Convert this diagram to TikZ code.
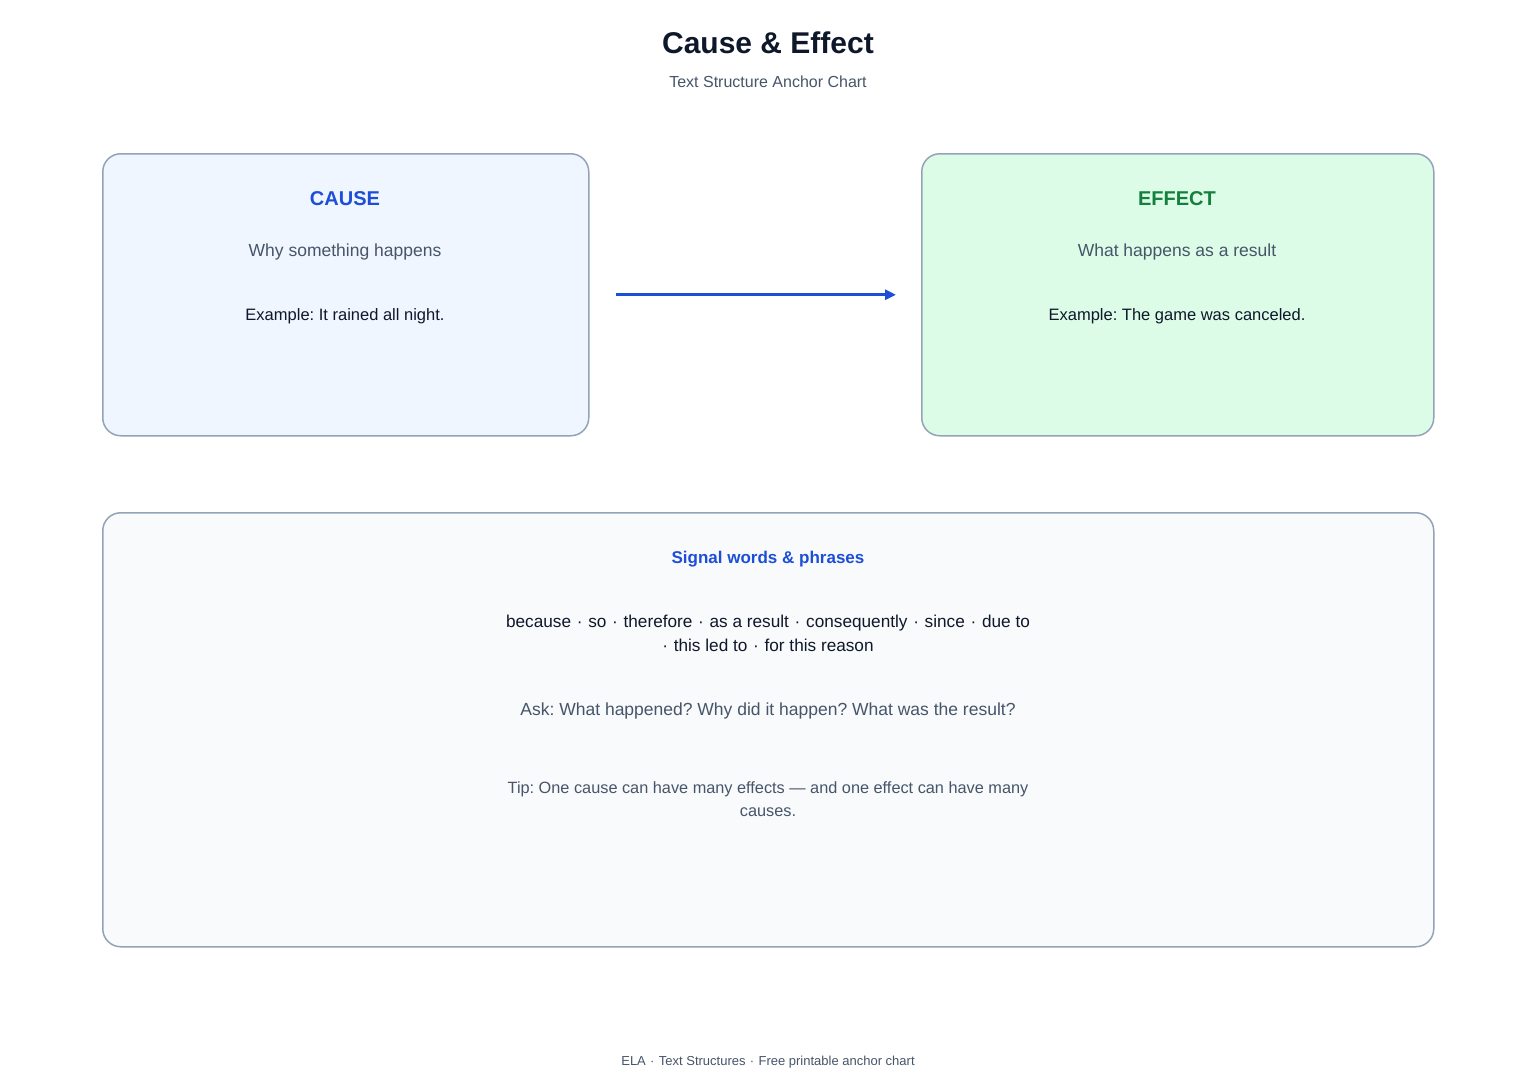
\documentclass[tikz,border=0pt]{standalone}
\usepackage{fontspec}
\setmainfont{Liberation Sans}
\usetikzlibrary{arrows.meta}
\definecolor{ink}{HTML}{0F172A}
\definecolor{slate}{HTML}{475569}
\definecolor{rim}{HTML}{94A3B8}
\definecolor{causeblue}{HTML}{1D4ED8}
\definecolor{causefill}{HTML}{EFF6FF}
\definecolor{effectgreen}{HTML}{15803D}
\definecolor{effectfill}{HTML}{DCFCE7}
\definecolor{signalfill}{HTML}{F8FAFC}
\frenchspacing
\newcommand{\sep}{\,\,·\,\,}
\begin{document}
\begin{tikzpicture}[x=1pt,y=-1pt,
  card/.style={draw=rim,line width=1.5pt,rounded corners=18pt,anchor=north west,inner sep=0pt},
  head/.style={anchor=base,font=\fontsize{20}{24}\selectfont\bfseries},
  sub/.style={anchor=base,text=slate,font=\fontsize{17.5}{23}\selectfont},
  body/.style={anchor=base,text=ink,font=\fontsize{16.5}{23}\selectfont},
  link/.style={draw=causeblue,line width=3pt,-{Triangle[length=11pt,width=10pt]},shorten <=26pt,shorten >=25pt}]
\useasboundingbox[fill=white] (0,0) rectangle (1536,1088);

\node[anchor=base,text=ink,font=\fontsize{30}{36}\selectfont\bfseries] (title) at (768,53) {Cause \& Effect};
\node[anchor=base,text=slate,font=\fontsize{16}{20}\selectfont] (subtitle) at (768,87) {Text Structure Anchor Chart};

\begin{scope}
\node[card,fill=causefill,minimum width=486pt,minimum height=282pt] (cause) at (102,153) {};
\node[head,text=causeblue] (causehead) at (345,205.5) {CAUSE};
\node[sub] (causesub) at (345,256) {Why something happens};
\node[body] (causeex) at (345,320) {Example: It rained all night.};
\end{scope}

\begin{scope}
\node[card,fill=effectfill,minimum width=512pt,minimum height=282pt] (effect) at (921,153) {};
\node[head,text=effectgreen] (effecthead) at (1177,205.5) {EFFECT};
\node[sub] (effectsub) at (1177,256) {What happens as a result};
\node[body] (effectex) at (1177,320) {Example: The game was canceled.};
\end{scope}

\draw[link] (cause.east) -- (effect.west);

\begin{scope}
\node[card,fill=signalfill,minimum width=1331pt,minimum height=434pt] (signal) at (102,512) {};
\node[head,text=causeblue,font=\fontsize{17}{22}\selectfont\bfseries] (signalhead) at (768,563) {Signal words \& phrases};
\node[body,font=\fontsize{17.2}{24}\selectfont,align=center] (words) at (768,651.5)
  {because\sep so\sep therefore\sep as a result\sep consequently\sep since\sep due to\\
   ·\,\,this led to\sep for this reason};
\node[sub] (ask) at (768,715) {Ask: What happened? Why did it happen? What was the result?};
\node[sub,align=center,font=\fontsize{16.3}{23}\selectfont] (tip) at (768,816.5)
  {Tip: One cause can have many effects — and one effect can have many\\ causes.};
\end{scope}

\node[anchor=base,text=slate,font=\fontsize{13}{16}\selectfont] (footer) at (768,1065)
  {ELA\sep Text Structures\sep Free printable anchor chart};
\end{tikzpicture}
\end{document}
